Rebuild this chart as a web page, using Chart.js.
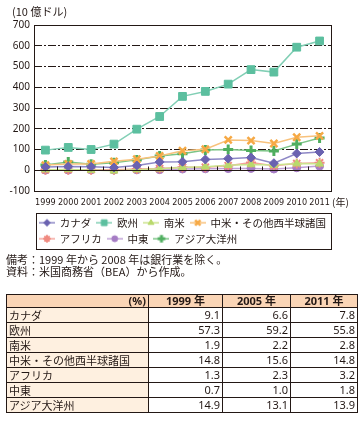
<!DOCTYPE html>
<html>
<head>
<meta charset="utf-8">
<script src="https://cdn.jsdelivr.net/npm/chart.js@4/dist/chart.umd.min.js"></script>
<style>
  body { margin: 0; background: #fff; font-family: 'Noto Sans CJK JP', 'Noto Sans', sans-serif; color: #231815; }
  #wrap { position: relative; width: 363px; height: 425px; }
  #chart-box { position: absolute; left: 0; top: 0; width: 363px; height: 254px; }
  .notes { position: absolute; left: 6px; top: 253px; font-size: 11px; line-height: 12px; white-space: nowrap; }
  table { position: absolute; left: 6px; top: 294px; border-collapse: collapse; font-size: 11px; table-layout: fixed; }
  td, th { border: 1px solid #231815; padding: 0 2px; height: 14px; line-height: 14px; white-space: nowrap; }
  th { background: #fad5b6; font-weight: bold; height: 12px; line-height: 12px; font-family: 'Noto Sans', 'Noto Sans CJK JP', sans-serif; }
  td.name { background: #fef0e0; text-align: left; }
  td.num { text-align: right; font-family: 'Noto Sans', sans-serif; }
</style>
</head>
<body>
<div id="wrap">
  <div id="chart-box"><canvas id="trade-chart" width="363" height="254"></canvas></div>
  <div class="notes">備考：1999 年から 2008 年は銀行業を除く。<br>資料：米国商務省（BEA）から作成。</div>
  <table id="share-table"></table>
</div>
<script>
// (10億ドル)
const years = ['1999', '2000', '2001', '2002', '2003', '2004', '2005', '2006', '2007', '2008', '2009', '2010', '2011'];
const canada = [16, 18, 17, 13, 23, 40, 41, 52, 56, 61, 34, 81, 88];
const europe = [97, 110, 100, 126, 198, 259, 356, 380, 415, 485, 473, 593, 623];
const southAmerica = [3, 4, 1, -3, 3, 7, 13, 17, 24, 28, 25, 32, 31];
const centralAmerica = [25, 30, 30, 43, 53, 69, 94, 101, 146, 143, 129, 159, 166];
const africa = [2, 3, 3, 3, 6, 8, 14, 15, 22, 37, 22, 32, 36];
const middleEast = [1, 1, 2, 1, 2, 3, 6, 7, 8, 9, 6, 12, 20];
const asiaPacific = [25, 40, 29, 36, 50, 69, 79, 97, 100, 95, 93, 126, 155];
const yTicks = [-100, 0, 100, 200, 300, 400, 500, 600, 700];

// table (%)
const tableRegions = ['カナダ', '欧州', '南米', '中米・その他西半球諸国', 'アフリカ', '中東', 'アジア大洋州'];
const tableYears = ['1999 年', '2005 年', '2011 年'];
const share1999 = ['9.1', '57.3', '1.9', '14.8', '1.3', '0.7', '14.9'];
const share2005 = ['6.6', '59.2', '2.2', '15.6', '2.3', '1.0', '13.1'];
const share2011 = ['7.8', '55.8', '2.8', '14.8', '3.2', '1.8', '13.9'];

const series = [
  { label: 'カナダ', data: canada, marker: '#6a62b0', line: '#8e88c6', style: 'rectRot', r: 4.5, bw: 1 },
  { label: '欧州', data: europe, marker: '#5cbf9f', line: '#82cfb5', style: 'rect', r: 5.5, bw: 1 },
  { label: '南米', data: southAmerica, marker: '#b9d96c', line: '#cbe38e', style: 'triangle', r: 4.5, bw: 1 },
  { label: '中米・その他西半球諸国', data: centralAmerica, marker: '#f6a945', line: '#f8c27c', style: 'crossRot', r: 5, bw: 2.5 },
  { label: 'アフリカ', data: africa, marker: '#f08a80', line: '#f4a59c', style: 'star', r: 5, bw: 2 },
  { label: '中東', data: middleEast, marker: '#a57cc4', line: '#bfa2d6', style: 'circle', r: 4, bw: 1 },
  { label: 'アジア大洋州', data: asiaPacific, marker: '#4fae5f', line: '#7cc486', style: 'cross', r: 5, bw: 3 },
];

// small legend swatch: line with marker in the middle
function legendSwatch(s) {
  const c = document.createElement('canvas');
  c.width = 16; c.height = 10;
  const g = c.getContext('2d');
  g.strokeStyle = s.line;
  g.lineWidth = 1.5;
  g.beginPath(); g.moveTo(0, 5); g.lineTo(16, 5); g.stroke();
  g.fillStyle = s.marker;
  g.strokeStyle = s.marker;
  g.lineWidth = s.bw;
  Chart.helpers.drawPoint(g, { pointStyle: s.style, radius: s.r * 0.75, borderWidth: s.bw, rotation: 0 }, 8, 5);
  return c;
}

const frameAndAxis = {
  id: 'frameAndAxis',
  afterLayout(chart) {
    // legend box starts at the plot's left edge, not at the canvas edge
    const lg = chart.legend;
    const dx = chart.chartArea.left - lg.left;
    lg.left += dx;
    lg.right += dx;
  },
  afterDraw(chart) {
    const { ctx, chartArea: a } = chart;
    const xs = chart.scales.x, ys = chart.scales.y;
    ctx.save();
    ctx.strokeStyle = '#231815';
    ctx.lineWidth = 1;
    // zero line + small ticks between categories
    const y0 = Math.round(ys.getPixelForValue(0)) + 0.5;
    ctx.beginPath();
    ctx.moveTo(a.left, y0); ctx.lineTo(a.right, y0);
    const step = (xs.right - xs.left) / years.length;
    for (let i = 1; i < years.length; i++) {
      const x = Math.round(xs.left + i * step) + 0.5;
      ctx.moveTo(x, y0); ctx.lineTo(x, y0 - 4);
    }
    ctx.stroke();
    ctx.strokeRect(Math.round(a.left) + 0.5, Math.round(a.top) + 0.5, Math.round(a.right - a.left), Math.round(a.bottom - a.top));
    // legend frame
    const hb = chart.legend.legendHitBoxes;
    const l = Math.min(...hb.map(h => h.left)) - 4;
    const r = Math.max(...hb.map(h => h.left + h.width)) + 5;
    const t = Math.min(...hb.map(h => h.top)) - 5;
    const b = Math.max(...hb.map(h => h.top + h.height)) + 4;
    ctx.strokeRect(Math.round(l) + 0.5, Math.round(t) + 0.5, Math.round(r - l), Math.round(b - t));
    // unit labels
    ctx.fillStyle = '#231815';
    ctx.textBaseline = 'middle';
    ctx.font = '11px "Noto Sans CJK JP"';
    ctx.textAlign = 'left';
    ctx.fillText('(10 億ドル)', a.left - 22, a.top - 13);
    ctx.font = '10px "Noto Sans CJK JP"';
    ctx.fillText('(年)', xs.right + 1, a.bottom + 11);
    ctx.restore();
  }
};

new Chart(document.getElementById('trade-chart'), {
  type: 'line',
  data: {
    labels: years,
    datasets: series.map((s) => ({
      label: s.label,
      data: s.data,
      borderColor: s.line,
      borderWidth: 1.5,
      backgroundColor: s.marker,
      pointBackgroundColor: s.marker,
      pointBorderColor: s.marker,
      pointBorderWidth: s.bw,
      pointStyle: s.style,
      pointRadius: s.r,
      tension: 0,
    })),
  },
  options: {
    responsive: false,
    animation: false,
    layout: { padding: { top: 25, right: 32, bottom: 0, left: 0 } },
    scales: {
      x: {
        offset: true,
        grid: { display: false, drawTicks: false },
        border: { display: false },
        ticks: { padding: 6, maxRotation: 0, autoSkip: false, color: '#231815', font: { family: '"DejaVu Sans", sans-serif', weight: 'condensed', size: 9 } },
        afterFit: (scale) => { scale.height = 21; },
      },
      y: {
        min: -100,
        max: 700,
        afterBuildTicks: (scale) => { scale.ticks = yTicks.map((v) => ({ value: v })); },
        grid: { color: '#231815', lineWidth: 1, drawTicks: false },
        border: { display: false, dash: [8, 2, 2, 2] },
        ticks: { padding: 4, color: '#231815', font: { family: '"Noto Sans", sans-serif', size: 10 } },
        afterFit: (scale) => { scale.width = 34; },
      },
    },
    plugins: {
      legend: {
        position: 'bottom',
        align: 'start',
        labels: {
          usePointStyle: true,
          pointStyleWidth: 15,
          padding: 5.5,
          color: '#231815',
          font: { family: '"Noto Sans CJK JP", sans-serif', size: 10.5 },
          generateLabels: () => series.map((s, i) => ({
            text: s.label,
            pointStyle: legendSwatch(s),
            fillStyle: s.marker,
            strokeStyle: s.marker,
            lineWidth: 0,
            fontColor: '#231815',
            datasetIndex: i,
            hidden: false,
          })),
        },
      },
      tooltip: { enabled: false },
    },
  },
  plugins: [frameAndAxis],
});

// share table
const tbl = document.getElementById('share-table');
const colWidths = [142, 74, 68, 67];
let html = '<colgroup>' + colWidths.map((w) => `<col style="width:${w}px">`).join('') + '</colgroup>';
html += '<tr><th style="text-align:right">(%)</th>' + tableYears.map((y) => `<th>${y}</th>`).join('') + '</tr>';
tableRegions.forEach((name, i) => {
  html += `<tr><td class="name">${name}</td><td class="num">${share1999[i]}</td><td class="num">${share2005[i]}</td><td class="num">${share2011[i]}</td></tr>`;
});
tbl.innerHTML = html;
</script>
</body>
</html>
